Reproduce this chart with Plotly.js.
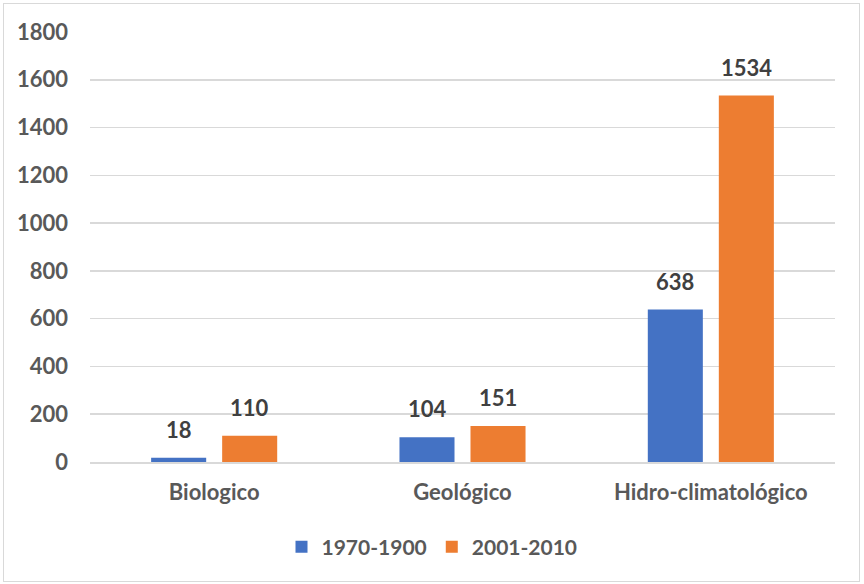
<!DOCTYPE html>
<html>
<head>
<meta charset="utf-8">
<script src="https://cdn.plot.ly/plotly-3.0.1.min.js"></script>
<style>
html,body{margin:0;padding:0;background:#fff;}
#wrap{position:relative;width:864px;height:584px;}
#chart{width:864px;height:584px;}
#border{position:absolute;left:3px;top:3px;width:855px;height:577px;border:1px solid #d9d9d9;pointer-events:none;}
</style>
</head>
<body>
<div id="wrap"><div id="chart"></div><div id="border"></div></div>
<script>
const categories = ["Biologico", "Geológico", "Hidro-climatológico"];
const seriesNames = ["1970-1900", "2001-2010"];
const values1970 = [18, 104, 638];
const values2001 = [110, 151, 1534];
const yTicks = [0, 200, 400, 600, 800, 1000, 1200, 1400, 1600, 1800];

const fontFam = "Lato, 'Open Sans', sans-serif";
const labelFont = {family: fontFam, size: 22, color: "#404040", weight: "bold"};

const traces = [
  {type: "bar", name: seriesNames[0], x: categories, y: values1970,
   marker: {color: "#4472c4"}, hoverinfo: "skip"},
  {type: "bar", name: seriesNames[1], x: categories, y: values2001,
   marker: {color: "#ed7d31"}, hoverinfo: "skip"}
];

const annotations = [];
[values1970, values2001].forEach((vals, si) => {
  vals.forEach((v, i) => {
    annotations.push({
      x: categories[i], y: v, xref: "x", yref: "y",
      text: String(v), showarrow: false, yanchor: "bottom", xanchor: "center",
      xshift: si === 0 ? -35.5 : 35.5, yshift: 13, font: labelFont
    });
  });
});

const layout = {
  width: 864, height: 584,
  margin: {l: 90, r: 29, t: 32, b: 122},
  paper_bgcolor: "#fff", plot_bgcolor: "#fff",
  barmode: "group", bargap: 0.428, bargroupgap: 0.225,
  font: {family: fontFam, color: "#595959"},
  annotations: annotations,
  xaxis: {
    tickfont: {family: fontFam, size: 22, color: "#595959", weight: "bold"},
    showline: true, linecolor: "#d9d9d9", linewidth: 2, ticks: "", fixedrange: true,
    ticklabelstandoff: 10, automargin: false
  },
  yaxis: {
    range: [0, 1800], tickvals: yTicks, ticktext: yTicks.map(String),
    tickfont: {family: fontFam, size: 22, color: "#595959", weight: "bold"},
    showgrid: true, gridcolor: "#d9d9d9", gridwidth: 1.5, zeroline: false,
    ticks: "", ticklabelstandoff: 21, showline: false, automargin: false
  },
  showlegend: true,
  legend: {orientation: "h", x: 0.5, xref: "container", xanchor: "center",
    y: 0.063, yref: "container", yanchor: "middle",
    font: {family: fontFam, size: 21, color: "#595959", weight: "bold"},
    traceorder: "normal", itemwidth: 30}
};

Plotly.newPlot("chart", traces, layout, {displayModeBar: false, staticPlot: true});
</script>
</body>
</html>
